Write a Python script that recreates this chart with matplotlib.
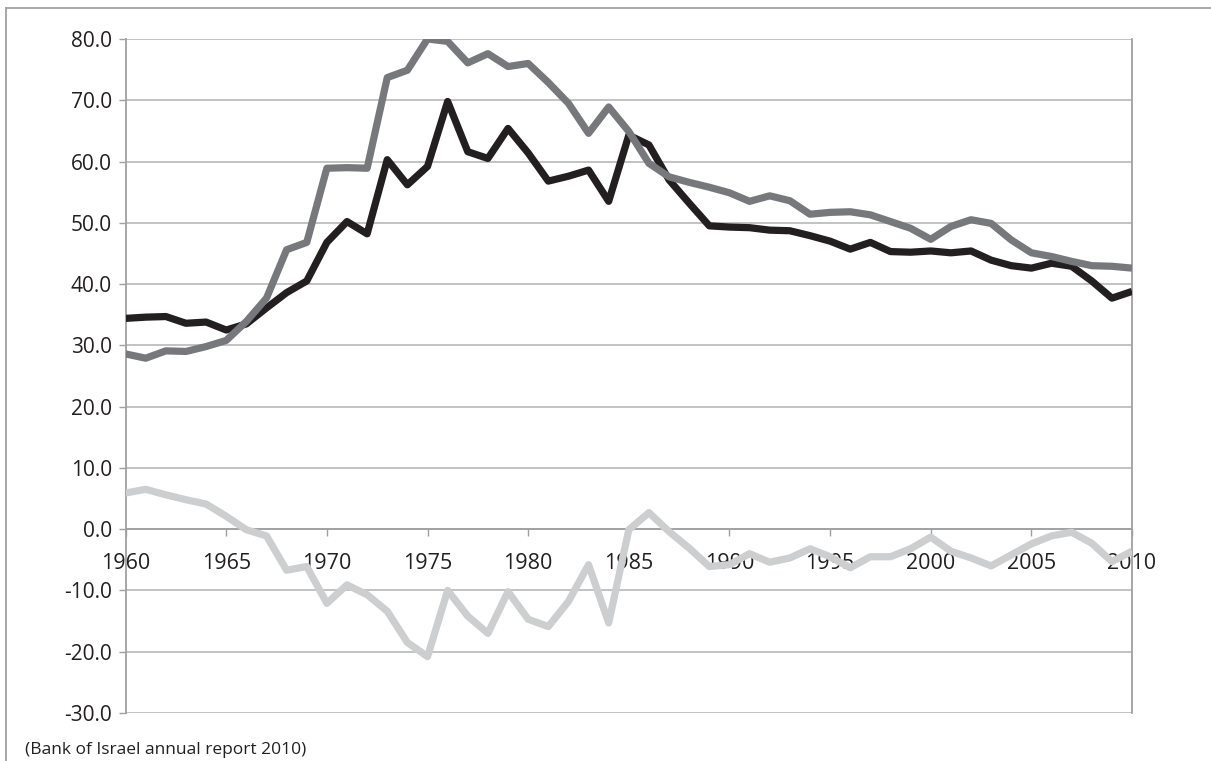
import numpy as np
import matplotlib.pyplot as plt
from matplotlib.lines import Line2D

# 字体
plt.rcParams['font.family'] = ['Open Sans', 'DejaVu Sans']

# ==========================================
# 数据
# ==========================================
years = list(range(1960, 2011))

series_black = [34.4, 34.6, 34.7, 33.6, 33.8, 32.5, 33.5, 36.1, 38.6, 40.5,
                46.8, 50.2, 48.2, 60.3, 56.2, 59.2, 69.8, 61.6, 60.5, 65.4,
                61.4, 56.8, 57.6, 58.6, 53.5, 64.3, 62.7, 57.0, 53.2, 49.5,
                49.3, 49.2, 48.8, 48.7, 47.9, 47.0, 45.7, 46.8, 45.3, 45.2,
                45.4, 45.1, 45.4, 43.9, 43.0, 42.6, 43.4, 42.9, 40.5, 37.7,
                38.8]

series_dark = [28.6, 27.9, 29.1, 29.0, 29.8, 30.8, 33.9, 37.7, 45.6, 46.8,
               58.9, 59.0, 58.9, 73.7, 74.9, 80.0, 79.6, 76.1, 77.6, 75.5,
               76.0, 72.9, 69.5, 64.6, 68.9, 64.9, 59.7, 57.5, 56.6, 55.8,
               54.9, 53.5, 54.4, 53.6, 51.4, 51.7, 51.8, 51.3, 50.2, 49.1,
               47.3, 49.4, 50.5, 49.9, 47.2, 45.1, 44.5, 43.7, 43.0, 42.9,
               42.6]

series_light = [5.9, 6.5, 5.6, 4.8, 4.1, 2.1, -0.1, -1.1, -6.7, -6.1,
                -12.1, -9.1, -10.7, -13.4, -18.5, -20.8, -10.0, -14.2, -17.0, -10.2,
                -14.7, -15.9, -11.8, -5.8, -15.3, -0.1, 2.7, -0.4, -3.1, -6.1,
                -5.8, -4.0, -5.4, -4.7, -3.2, -4.5, -6.3, -4.5, -4.5, -3.2,
                -1.3, -3.6, -4.7, -6.0, -4.2, -2.4, -1.1, -0.5, -2.3, -5.3,
                -3.6]

y_ticks = np.arange(-30, 81, 10)
x_ticks = list(range(1960, 2011, 5))
source_text = "(Bank of Israel annual report 2010)"

# ==========================================
# 绘图
# ==========================================
fig = plt.figure(figsize=(12.11, 7.61), dpi=100)
ax = fig.add_axes([0.1037, 0.0631, 0.8311, 0.8857])

line_kw = dict(linewidth=5.2, solid_joinstyle="round", solid_capstyle="butt", zorder=3)
ax.plot(years, series_black, color="#231f20", **line_kw)
ax.plot(years, series_dark, color="#77787b", **line_kw)
ax.plot(years, series_light, color="#cdcecf", **line_kw)

ax.set_xlim(1960, 2010)
ax.set_ylim(-30, 80)

ax.set_yticks(y_ticks)
ax.set_yticklabels([f"{v:.1f}" for v in y_ticks])
ax.set_xticks(x_ticks)
ax.set_xticklabels([str(v) for v in x_ticks])

ax.grid(axis="y", color="#b8b8b8", linewidth=1.2, zorder=1)
ax.set_axisbelow(True)

ax.spines["top"].set_visible(False)
ax.spines["bottom"].set_position(("data", 0))
for s in ["left", "right", "bottom"]:
    ax.spines[s].set_color("#a0a0a0")
    ax.spines[s].set_linewidth(1.3)

ax.tick_params(axis="y", direction="out", length=5, width=1, color="#a0a0a0",
               labelsize=15, labelcolor="#231f20", pad=5)
ax.tick_params(axis="x", direction="out", length=5, width=1, color="#a0a0a0",
               labelsize=15.5, labelcolor="#231f20", pad=12)

# 外框（仅上边和左边）
fig.add_artist(Line2D([5.5 / 1211, 1.0], [1 - 8 / 761, 1 - 8 / 761],
                      transform=fig.transFigure, color="#a0a0a0", linewidth=1.3))
fig.add_artist(Line2D([5.5 / 1211, 5.5 / 1211], [0.0, 1 - 8 / 761],
                      transform=fig.transFigure, color="#a0a0a0", linewidth=1.3))

fig.text(25 / 1211, 1 - 750 / 761, source_text, fontsize=12.5, color="#231f20",
         ha="left", va="center")

plt.savefig("out.png", dpi=100)
